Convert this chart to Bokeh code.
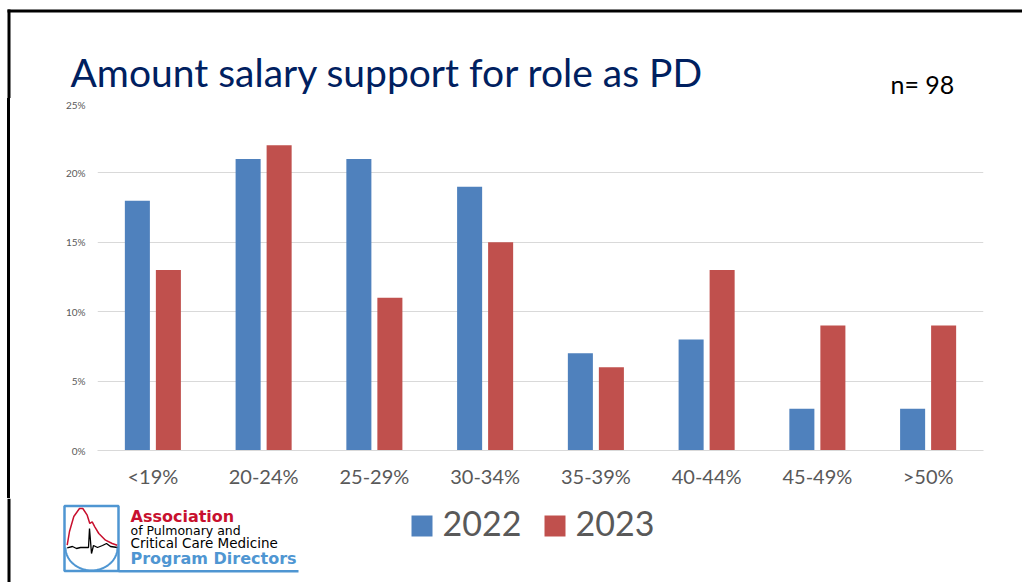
from bokeh.plotting import figure
from bokeh.layouts import column, row
from bokeh.models import ColumnDataSource, FactorRange, Range1d, FixedTicker
from bokeh.core.properties import value
from bokeh.transform import dodge
from bokeh.embed import file_html
from bokeh.resources import INLINE
import numpy as np

# ---- data ----
categories = ["<19%", "20-24%", "25-29%", "30-34%", "35-39%", "40-44%", "45-49%", ">50%"]
y2022 = [18, 21, 21, 19, 7, 8, 3, 3]
y2023 = [13, 22, 11, 15, 6, 13, 9, 9]
series = ["2022", "2023"]
colors = ["#4F81BD", "#C0504D"]
y_ticks = [0, 5, 10, 15, 20, 25]
title_text = "Amount salary support for role as PD"
n_text = "n= 98"
logo_lines = ["Association", "of Pulmonary and", "Critical Care Medicine", "Program Directors"]

PAGE_W = 1022
HEAD_H, CHART_H, FOOT_H = 98, 400, 84
BORDER_L, BORDER_W = 7, 3   # left slide border (page px)
LEAD = BORDER_L + BORDER_W
LOGO_BLUE = "#4F96D2"
LOGO_RED = "#C8102E"
GREY = "#595959"
BASE_SHIFT = 0.31  # em offset so that y is the text baseline


def blank(width, height, x0, x1, y_top, y_bottom, fill="white"):
    f = figure(width=width, height=height, x_range=Range1d(x0, x1), y_range=Range1d(y_bottom, y_top),
               x_axis_type=None, y_axis_type=None, output_backend="svg", toolbar_location=None,
               title=None, min_border=0)
    f.outline_line_color = None
    f.grid.visible = False
    f.background_fill_color = fill
    f.border_fill_color = fill
    return f


def txt(f, x, y, s, size, color, font="Lato", style="normal"):
    f.text(x=[x], y=[y - BASE_SHIFT * size], text=[s], text_font=value(font), text_font_size=f"{size}px",
           text_font_style=style, text_color=color, text_baseline="alphabetic", text_align="left")


# ---- header ----
head = blank(PAGE_W, HEAD_H, 0, PAGE_W, 0, HEAD_H)
head.quad(left=[BORDER_L], right=[PAGE_W], top=[9], bottom=[12], fill_color="black", line_color=None)
head.quad(left=[BORDER_L], right=[LEAD], top=[9], bottom=[HEAD_H], fill_color="black", line_color=None)
txt(head, 70, 84, title_text, 39, "#002060")
txt(head, 890, 91, n_text, 25, "#000000")

# ---- strip holding the left border beside the chart ----
strip = blank(LEAD, CHART_H, 0, LEAD, 0, 1)
strip.border_fill_color = None
strip.quad(left=[BORDER_L], right=[LEAD], top=[0], bottom=[1], fill_color="black", line_color=None)

# ---- chart ----
src = ColumnDataSource(dict(cat=categories, y2022=y2022, y2023=y2023))
p = figure(width=PAGE_W - LEAD, height=CHART_H, x_range=FactorRange(*categories, range_padding=0),
           y_range=Range1d(0, 25), output_backend="svg", toolbar_location=None, title=None,
           min_border_left=97 - LEAD, min_border_right=39, min_border_top=5, min_border_bottom=48,
           styles={"box-shadow": f"-{BORDER_W}px 0px 0px 0px black"})
p.outline_line_color = None
p.background_fill_color = "white"
p.border_fill_color = "white"

p.vbar(x=dodge("cat", -0.14, range=p.x_range), top="y2022", width=0.226, source=src,
       fill_color=colors[0], line_color=None)
p.vbar(x=dodge("cat", 0.14, range=p.x_range), top="y2023", width=0.226, source=src,
       fill_color=colors[1], line_color=None)

p.xgrid.grid_line_color = None
p.ygrid.grid_line_color = "#D9D9D9"
p.ygrid.grid_line_width = 1
p.yaxis.ticker = FixedTicker(ticks=y_ticks)
p.yaxis.major_label_overrides = {t: f"{t}%" for t in y_ticks}
p.yaxis.axis_line_color = None
p.yaxis.major_tick_line_color = None
p.yaxis.minor_tick_line_color = None
p.yaxis.major_tick_out = 0
p.yaxis.major_tick_in = 0
p.yaxis.major_label_text_font_size = "10px"
p.yaxis.major_label_text_color = GREY
p.yaxis.major_label_text_font = "Lato"
p.yaxis.major_label_standoff = 12

p.xaxis.axis_line_color = "#D9D9D9"
p.xaxis.axis_line_width = 1
p.xaxis.major_tick_line_color = None
p.xaxis.minor_tick_line_color = None
p.xaxis.major_tick_out = 0
p.xaxis.major_tick_in = 0
p.xaxis.major_label_text_font_size = "20px"
p.xaxis.major_label_text_color = GREY
p.xaxis.major_label_text_font = "Lato"
p.xaxis.major_label_standoff = 13

# ---- footer (page coordinates, y downward) ----
Y0 = HEAD_H + CHART_H
foot = blank(PAGE_W, FOOT_H, 0, PAGE_W, Y0, Y0 + FOOT_H)
foot.quad(left=[BORDER_L], right=[LEAD], top=[Y0], bottom=[Y0 + FOOT_H],
          fill_color="black", line_color=None)

# legend
for i, (s, c) in enumerate(zip(series, colors)):
    x0 = 411 + i * 133
    foot.quad(left=[x0], right=[x0 + 21], top=[515], bottom=[536], fill_color=c, line_color=None)
    txt(foot, x0 + 31, 534, s, 34, GREY)

# logo
foot.quad(left=[64], right=[118], top=[505.5], bottom=[570.5], fill_color=None,
          line_color=LOGO_BLUE, line_width=2.5)
foot.quad(left=[118], right=[298], top=[569.5], bottom=[572], fill_color=LOGO_BLUE, line_color=None)
red_x = [66.7, 69, 73.3, 79, 82.3, 86.7, 89.3, 91.7, 94.3, 98.3, 105, 111.7, 116.7]
red_y = [544.7, 531, 516, 508, 508, 514.7, 523, 521.3, 526.3, 533, 539.7, 543, 544.7]
foot.line(red_x, red_y, line_color=LOGO_RED, line_width=1.5)
ecg_x = [66.7, 72, 76, 80, 86, 88, 89, 91, 93, 97, 102, 106, 110, 117]
ecg_y = [547.3, 546, 548, 547, 547, 547, 528, 553, 545, 547, 545, 543, 546, 547]
foot.line(ecg_x, ecg_y, line_color="black", line_width=1.3)
t = np.linspace(0, np.pi, 40)
foot.line(91 - 26 * np.cos(t), 547 + 23 * np.sin(t), line_color=LOGO_BLUE, line_width=2)

txt(foot, 130, 521, logo_lines[0], 16, LOGO_RED, font="DejaVu Sans", style="bold")
txt(foot, 130, 534, logo_lines[1], 12.5, "black", font="DejaVu Sans")
txt(foot, 130, 547, logo_lines[2], 13.5, "black", font="DejaVu Sans")
txt(foot, 130, 563, logo_lines[3], 16, LOGO_BLUE, font="DejaVu Sans", style="bold")

layout = column(head, row(strip, p), foot)
open("out.html", "w").write(file_html(layout, INLINE))
